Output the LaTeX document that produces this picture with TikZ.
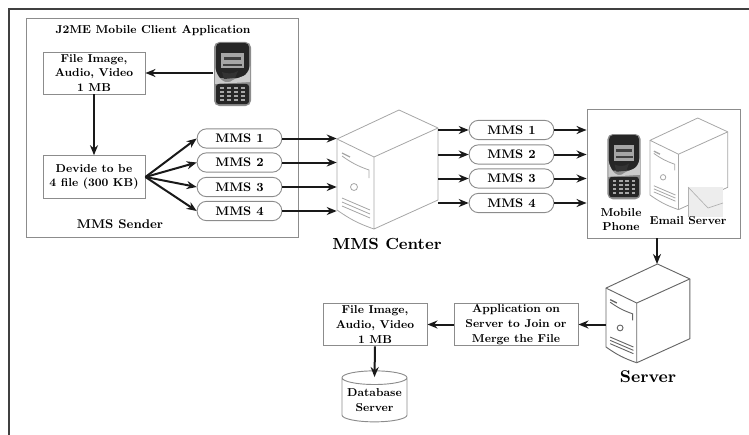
\documentclass[tikz,border=0pt]{standalone}
\usepackage{tikz}
\usetikzlibrary{arrows.meta,shapes.geometric}

\tikzset{
    flow/.style={-{Stealth[length=7.5pt,width=6pt]}, line width=1.5pt, black!90},
    panel/.style={draw=black!45, line width=0.7pt},
    textbox/.style={draw=black!45, line width=0.7pt, align=center, inner sep=0pt, text=black, font=\fontsize{8.6}{11}\selectfont\bfseries},
    pill/.style={draw=black!45, line width=0.7pt, rounded corners=7pt, minimum width=63.5pt, minimum height=14.5pt, inner sep=0pt, text=black, font=\fontsize{9.3}{11}\selectfont\bfseries},
    caption/.style={align=center, inner sep=0pt, text=black, font=\fontsize{8.6}{11}\selectfont\bfseries},
    tower/.pic={
        \draw [pic actions, line join=round] (0,29) -- (62,0) -- (101,18) -- (37,47) -- cycle;
        \draw [pic actions, line join=round] (101,18) -- (101,90) -- (37,119) -- (37,47);
        \draw [pic actions] (0,29) -- (0,100) to[bend right=8] (37,119);
        \draw [pic actions, line width=1pt] (5,43) -- (13,47);
        \draw [pic actions] (5,46) to[bend right=8] (32,60) -- (32,68);
        \draw [pic actions] (17,77) circle (3.5);
        \draw [pic actions] (5,88) -- (33,100);
        \draw [pic actions] (5,92) -- (33,104);
        \draw [pic actions] (5,96) -- (33,108);
    },
    phone/.pic={
        \fill [black!45, rounded corners=4pt] (1,0) rectangle (38,64);
        \fill [black!85, rounded corners=3pt] (3,1) rectangle (36,36);
        \fill [black!35] (8,11) rectangle (31,26);
        \fill [black!75] (11,15) rectangle (28,18);
        \fill [black!75] (10,22) rectangle (29,24);
        \fill [black!20] (2,26) .. controls (6,40) and (14,43) .. (20,38) .. controls (28,34) and (34,36) .. (37,24) -- (37,40) -- (2,42) -- cycle;
        \fill [black!80] (9,30) .. controls (14,32) and (20,32) .. (25,29) -- (22,36) -- (11,37) -- cycle;
        \fill [black!85, rounded corners=2pt] (3,42) rectangle (36,62);
        \foreach \i in {0,...,3} {
            \foreach \j in {0,...,3} {
                \fill [black!35] (7+\i*7,45+\j*4) rectangle (11+\i*7,47+\j*4);
            }
        }
    }
}

\begin{document}
\begin{tikzpicture}[x=0.75pt, y=-0.75pt]

    \useasboundingbox (0,0) rectangle (749,435);
    \draw [black!75, line width=1.5pt] (9.3,435) -- (9.3,8.7) -- (749,8.7);

    \node (sender) [panel, minimum width=204pt, minimum height=164.25pt] at (162,127.5) {};
    \node (recv) [panel, minimum width=114.75pt, minimum height=96.75pt] at (663.5,173.5) {};

    \node (title) [caption] at (153,30.5) {J2ME Mobile Client Application};
    \node (file) [textbox, minimum width=76.5pt, minimum height=31.5pt] at (94,73) {File Image,\\Audio, Video\\1 MB};
    \node (split) [textbox, minimum width=76.5pt, minimum height=32pt] at (94,177) {Devide to be\\4 file (300 KB)};
    \node (sendlabel) [caption, scale=1.1] at (120,224) {MMS Sender};

    \node (a1) [pill] at (239.5,138.5) {MMS 1};
    \node (a2) [pill] at (239.5,162.5) {MMS 2};
    \node (a3) [pill] at (239.5,187) {MMS 3};
    \node (a4) [pill] at (239.5,211) {MMS 4};

    \node (b1) [pill] at (511.5,130) {MMS 1};
    \node (b2) [pill] at (511.5,154.5) {MMS 2};
    \node (b3) [pill] at (511.5,178.5) {MMS 3};
    \node (b4) [pill] at (511.5,203) {MMS 4};

    \pic at (213,42) {phone};
    \coordinate (mob) at (213,73);
    \pic [xscale=0.9, yscale=1.02] at (606.5,134) {phone};
    \node (moblabel) [caption] at (621,219.5) {Mobile\\Phone};

    \pic [black!35, line width=0.6pt] at (337,110) {tower};
    \node (centre) [minimum width=75.75pt, minimum height=89.25pt, inner sep=0pt] at (387.5,169.5) {};
    \node (centrelabel) [caption, scale=1.4] at (387,244) {MMS Center};

    \pic [black!35, line width=0.6pt, scale=0.77] at (650,118) {tower};
    \fill [black!7] (688,187) rectangle (723,217);
    \draw [black!30, line width=0.5pt] (688,187) -- (708,208) -- (723,203);
    \draw [black!30, line width=0.5pt] (688,187) -- (688,217);
    \node (maillabel) [caption] at (688,221) {Email Server};

    \pic [black!60, line width=0.7pt, scale=0.83] at (606,264) {tower};
    \node (srv) [minimum width=64pt, minimum height=73.5pt, inner sep=0pt] at (648.5,313) {};
    \coordinate (srvtop) at (657,264);
    \node (srvlabel) [caption, scale=1.48] at (648,377) {Server};

    \node (app) [textbox, minimum width=93pt, minimum height=32pt] at (516,324.5) {Application on\\Server to Join or\\Merge the File};
    \node (out) [textbox, minimum width=78pt, minimum height=32pt] at (375,324.5) {File Image,\\Audio, Video\\1 MB};
    \node (db) [textbox, cylinder, shape border rotate=90, aspect=0.25, minimum width=48.75pt, minimum height=38.25pt] at (374.5,400) {Database\\Server};

    \draw [flow] (mob) to (file.east);
    \draw [flow] (file) to (split);

    \foreach \i in {1,...,4} {
        \draw [flow] (split.east) to (a\i.west);
        \draw [flow] (a\i.east) to (a\i -| centre.west);
        \draw [flow] (b\i -| centre.east) to (b\i.west);
        \draw [flow] (b\i.east) to (b\i -| recv.west);
    }

    \draw [flow] (srvtop |- recv.south) to (srvtop);
    \draw [flow] (srv.west |- app.east) to (app.east);
    \draw [flow] (app) to (out);
    \draw [flow] (out.south) to ([yshift=-5pt]db.north);

\end{tikzpicture}
\end{document}
